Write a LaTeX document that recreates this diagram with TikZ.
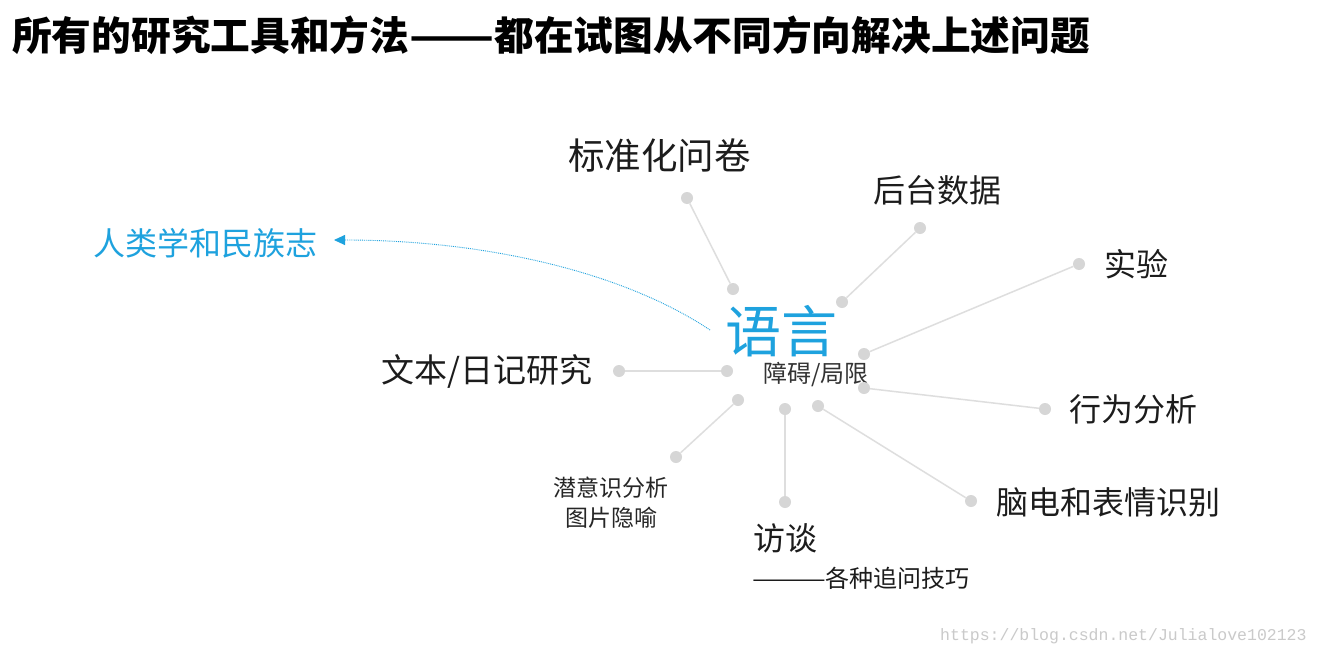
\documentclass[tikz,border=0pt]{standalone}
\usepackage{graphicx}
\usepackage{fontspec}
\setmainfont{Noto Sans CJK SC}
\newfontfamily\wmfont{Liberation Mono}
\usetikzlibrary{arrows.meta}
\definecolor{lblue}{HTML}{1EA2DE}
\definecolor{dotg}{HTML}{D6D6D6}
\definecolor{lineg}{HTML}{DEDEDE}
\definecolor{txt}{HTML}{1C1C1C}
\definecolor{wmg}{HTML}{CACACA}
\newcommand\myfs[1]{\fontsize{#1}{#1}\selectfont}
\newcommand\wdash[1]{\scalebox{1.25}[1]{#1}}
\tikzset{
  gdot/.style={circle, fill=dotg, minimum size=12, inner sep=0},
  link/.style={draw=lineg, line width=1.5},
  lbl/.style={anchor=west, inner sep=0, text=txt},
}
\begin{document}
\begin{tikzpicture}[x=1pt,y=-1pt]
\path[use as bounding box, fill=white] (0,0) rectangle (1320,656);
% title
\node[anchor=west, inner sep=0] (title) at (12,35) {\myfs{39.7}\bfseries 所有的研究工具和方法\wdash{——}都在试图从不同方向解决上述问题};
% center
\node[anchor=west, inner sep=0, text=lblue] (lang) at (725,331) {\myfs{56}语言};
\node[lbl, text=black!80] (bar) at (763,375) {\myfs{24}障碍/局限};
% labels
\node[lbl] (q) at (568,156) {\myfs{36.5}标准化问卷};
\node[lbl] (bk) at (873,190) {\myfs{32}后台数据};
\node[lbl] (ex) at (1104,264) {\myfs{32}实验};
\node[anchor=west, inner sep=0, text=lblue] (an) at (93,243) {\myfs{32}人类学和民族志};
\node[lbl] (tx) at (381,371) {\myfs{33}文本/日记研究};
\node[lbl] (bh) at (1069,409) {\myfs{32}行为分析};
\node[lbl] (eeg) at (996,502) {\myfs{32}脑电和表情识别};
\node[inner sep=0, text=black!85, align=center, font=\myfs{23}] (sub) at (611,503) {潜意识分析\\[7pt]图片隐喻};
\node[lbl] (iv) at (753,538) {\myfs{32}访谈};
\node[lbl] (ivs) at (752,578) {\myfs{24}\scalebox{1.25}[1]{———}各种追问技巧};
% dots
\node[gdot] (qi) at (733,289) {}; \node[gdot] (qo) at (687,198) {};
\node[gdot] (bki) at (842,302) {}; \node[gdot] (bko) at (920,228) {};
\node[gdot] (exi) at (864,354) {}; \node[gdot] (exo) at (1079,264) {};
\node[gdot] (bhi) at (864,388) {}; \node[gdot] (bho) at (1045,409) {};
\node[gdot] (eegi) at (818,406) {}; \node[gdot] (eego) at (971,501) {};
\node[gdot] (ivi) at (785,409) {}; \node[gdot] (ivo) at (785,502) {};
\node[gdot] (subi) at (738,400) {}; \node[gdot] (subo) at (676,457) {};
\node[gdot] (txi) at (727,371) {}; \node[gdot] (txo) at (619,371) {};
% links
\foreach \a/\b in {qi/qo,bki/bko,exi/exo,bhi/bho,eegi/eego,ivi/ivo,subi/subo,txi/txo}
  \draw[link] (\a) -- (\b);
% dotted arrow
\coordinate (arrs) at (710,330);
\coordinate (arre) at (334,240);
\draw[lblue, densely dotted, line width=0.9, -{Triangle[length=11pt,width=10pt]}]
  (arrs) .. controls (620,270) and (480,240) .. (arre);
% watermark
\node[anchor=west, inner sep=0, text=wmg] (wm) at (940,636) {\wmfont\myfs{16.5}https://blog.csdn.net/Julialove102123};
\end{tikzpicture}
\end{document}
